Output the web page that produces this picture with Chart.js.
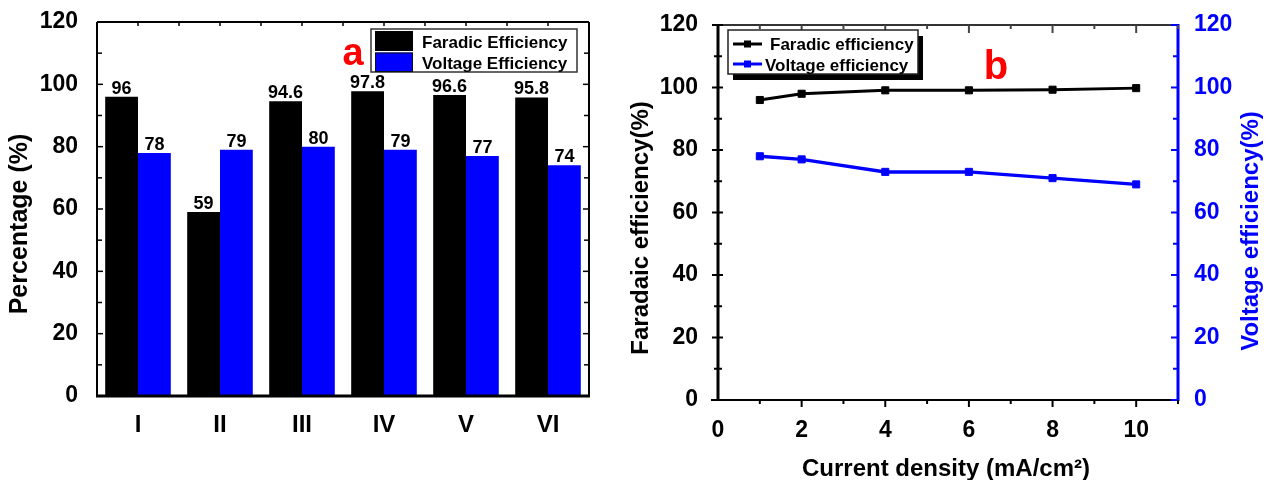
<!DOCTYPE html>
<html>
<head>
<meta charset="utf-8">
<script src="https://cdn.jsdelivr.net/npm/chart.js@4.4.1/dist/chart.umd.min.js"></script>
<style>
  html, body { margin: 0; padding: 0; background: #fff; width: 1267px; height: 480px; overflow: hidden; }
  canvas { position: absolute; top: 0; }
  #barChart { left: 0; }
  #lineChart { left: 620px; }
</style>
</head>
<body>
<canvas id="barChart" width="620" height="480"></canvas>
<canvas id="lineChart" width="647" height="480"></canvas>
<script>
const FONT = '"Liberation Sans", Arial, Helvetica, sans-serif';
const BLUE = '#0000ff';

// Panel (a): efficiencies for each cell configuration
const cellGroups = ['I', 'II', 'III', 'IV', 'V', 'VI'];
const faradicEfficiency = [96, 59, 94.6, 97.8, 96.6, 95.8];
const voltageEfficiency = [78, 79, 80, 79, 77, 74];

// Panel (b): efficiencies versus current density (mA/cm2)
const currentDensity = [1, 2, 4, 6, 8, 10];
const faradicVsCurrent = [96, 98, 99.1, 99.1, 99.3, 99.8];
const voltageVsCurrent = [78, 77, 73, 73, 71, 69];

// Tick labels
const percentTicks = [0, 20, 40, 60, 80, 100, 120];
const currentTicks = [0, 2, 4, 6, 8, 10];

function font(size) { return 'bold ' + size + 'px ' + FONT; }

function seg(ctx, x1, y1, x2, y2) {
  ctx.beginPath(); ctx.moveTo(x1, y1); ctx.lineTo(x2, y2); ctx.stroke();
}

function label(ctx, str, x, y, size, opts) {
  opts = opts || {};
  ctx.save();
  ctx.translate(x, y);
  if (opts.rot) ctx.rotate(opts.rot);
  ctx.font = font(size);
  ctx.fillStyle = opts.color || '#000';
  ctx.textAlign = opts.align || 'center';
  ctx.textBaseline = opts.baseline || 'middle';
  ctx.fillText(str, 0, 0);
  ctx.restore();
}

// keep the plot area where the layout padding puts it
function fixSize(prop, size) {
  return s => {
    s[prop] = size;
    s.paddingTop = 0; s.paddingBottom = 0; s.paddingLeft = 0; s.paddingRight = 0;
  };
}

// axis marks are drawn by the plugins below
const noGrid = { display: false, drawTicks: false };

// Frame, tick marks, value labels, legend and titles for panel (a)
const barDecor = {
  id: 'barDecor',
  afterDatasetsDraw(chart) {
    const ctx = chart.ctx;
    chart.data.datasets.forEach((ds, di) => {
      chart.getDatasetMeta(di).data.forEach((bar, i) => {
        label(ctx, String(ds.data[i]), bar.x, bar.y - 3, 18, { baseline: 'alphabetic' });
      });
    });
  },
  afterDraw(chart) {
    const { ctx, chartArea: a, scales: { x, y } } = chart;
    ctx.save();
    ctx.strokeStyle = '#000';
    ctx.lineWidth = 2;
    seg(ctx, a.left, a.top, a.right, a.top);
    seg(ctx, a.left, a.top, a.left, a.bottom);
    seg(ctx, a.right, a.top, a.right, a.bottom);
    ctx.lineWidth = 3;
    seg(ctx, a.left - 1, a.bottom, a.right + 1, a.bottom);

    ctx.lineWidth = 1.5;
    for (let v = 10; v < 120; v += 10) {
      const py = y.getPixelForValue(v);
      const len = v % 20 === 0 ? 6 : 5;
      seg(ctx, a.left, py, a.left + len, py);
      seg(ctx, a.right, py, a.right - len, py);
    }
    for (let i = 0; i < cellGroups.length; i++) {
      const px = x.getPixelForValue(i);
      seg(ctx, px, a.top, px, a.top + 4);
      if (i < cellGroups.length - 1) {
        const pb = (px + x.getPixelForValue(i + 1)) / 2;
        seg(ctx, pb, a.top, pb, a.top + 4);
      }
    }

    // legend
    const ds = chart.data.datasets;
    ctx.fillStyle = '#fff';
    ctx.fillRect(371, 29, 206, 43);
    ctx.strokeStyle = '#333';
    ctx.lineWidth = 1.5;
    ctx.strokeRect(371, 29, 206, 43);
    ctx.fillStyle = ds[0].backgroundColor;
    ctx.fillRect(375, 31, 38, 20);
    ctx.fillStyle = ds[1].backgroundColor;
    ctx.fillRect(375, 52.5, 38, 19);
    ctx.strokeStyle = '#111';
    ctx.lineWidth = 1;
    ctx.strokeRect(375.5, 53, 37, 18.5);
    label(ctx, ds[0].label, 422, 47.5, 17, { align: 'left', baseline: 'alphabetic' });
    label(ctx, ds[1].label, 422, 68.5, 17, { align: 'left', baseline: 'alphabetic' });

    // panel letter and axis title
    label(ctx, 'a', 353, 65, 38, { color: '#ff0000', baseline: 'alphabetic' });
    label(ctx, 'Percentage (%)', 20, 224, 25, { rot: -Math.PI / 2 });
    ctx.restore();
  }
};

new Chart(document.getElementById('barChart'), {
  type: 'bar',
  data: {
    labels: cellGroups,
    datasets: [
      { label: 'Faradic Efficiency', data: faradicEfficiency, backgroundColor: '#000000',
        categoryPercentage: 0.8, barPercentage: 1 },
      { label: 'Voltage Efficiency', data: voltageEfficiency, backgroundColor: BLUE,
        categoryPercentage: 0.8, barPercentage: 1 }
    ]
  },
  options: {
    responsive: false,
    animation: false,
    devicePixelRatio: 1,
    layout: { padding: { top: 22, right: 31, bottom: 0, left: 0 } },
    plugins: { legend: { display: false }, tooltip: { enabled: false } },
    scales: {
      x: {
        grid: noGrid,
        border: { display: false },
        ticks: { font: { family: FONT, size: 24, weight: 'bold' }, color: '#000', padding: 15 },
        afterFit: fixSize('height', 84)
      },
      y: {
        min: 0, max: 120,
        grid: noGrid,
        border: { display: false },
        ticks: { font: { family: FONT, size: 23, weight: 'bold' }, color: '#000', padding: 19 },
        afterBuildTicks: s => { s.ticks = percentTicks.map(v => ({ value: v })); },
        afterFit: fixSize('width', 97)
      }
    }
  },
  plugins: [barDecor]
});

// Frame, tick marks, legend and titles for panel (b) (canvas-local coordinates)
const lineDecor = {
  id: 'lineDecor',
  afterDraw(chart) {
    const { ctx, chartArea: a, scales: { x, yL, yR } } = chart;
    ctx.save();
    ctx.lineCap = 'butt';

    // axis lines
    ctx.strokeStyle = '#333';
    ctx.lineWidth = 2;
    seg(ctx, a.left, a.top, a.right, a.top);
    ctx.strokeStyle = '#000';
    seg(ctx, a.left - 7, a.bottom, a.right, a.bottom);
    ctx.lineWidth = 3;
    seg(ctx, a.left, a.top - 1, a.left, a.bottom + 1);
    ctx.strokeStyle = BLUE;
    seg(ctx, a.right, a.top - 1, a.right, a.bottom + 1);

    // value-axis ticks
    ctx.lineWidth = 2;
    for (let v = 0; v <= 120; v += 10) {
      const major = v % 20 === 0;
      const pl = yL.getPixelForValue(v);
      ctx.strokeStyle = '#000';
      seg(ctx, a.left - (major ? 6 : 4), pl, a.left + (major ? 5 : 4), pl);
      const pr = yR.getPixelForValue(v);
      ctx.strokeStyle = BLUE;
      seg(ctx, a.right - (major ? 7 : 5), pr, a.right, pr);
    }
    // current-density ticks, bottom (outwards) and top (inwards)
    for (let v = 1; v <= 11; v++) {
      const major = v % 2 === 0;
      const px = x.getPixelForValue(v);
      ctx.strokeStyle = '#000';
      seg(ctx, px, a.bottom, px, a.bottom + (major ? 7 : 4));
      ctx.strokeStyle = '#444';
      seg(ctx, px, a.top, px, a.top + (major ? 8 : 4));
    }

    // legend with drop shadow
    const ds = chart.data.datasets;
    ctx.fillStyle = '#000';
    ctx.fillRect(113, 36, 190, 44);
    ctx.fillStyle = '#fff';
    ctx.fillRect(108, 30, 190, 44);
    ctx.strokeStyle = '#222';
    ctx.lineWidth = 1.5;
    ctx.strokeRect(108, 30, 190, 44);
    const rows = [{ y: 44, tx: 150, ty: 50 }, { y: 64, tx: 145, ty: 71 }];
    rows.forEach((r, i) => {
      ctx.strokeStyle = ds[i].borderColor;
      ctx.lineWidth = 3;
      seg(ctx, 113, r.y, 142, r.y);
      ctx.fillStyle = ds[i].borderColor;
      ctx.fillRect(124, r.y - 3.5, 7, 7);
      label(ctx, ds[i].label, r.tx, r.ty, 17, { align: 'left', baseline: 'alphabetic' });
    });

    // panel letter and axis titles
    label(ctx, 'b', 376, 79, 40, { color: '#ff0000', baseline: 'alphabetic' });
    label(ctx, 'Faradaic efficiency(%)', 21, 228, 24, { rot: -Math.PI / 2 });
    label(ctx, 'Voltage efficiency(%)', 631, 231, 24, { rot: -Math.PI / 2, color: BLUE });
    label(ctx, 'Current density (mA/cm\u00B2)', 326, 469, 24);
    ctx.restore();
  }
};

new Chart(document.getElementById('lineChart'), {
  type: 'line',
  data: {
    datasets: [
      { label: 'Faradic efficiency', yAxisID: 'yL',
        data: currentDensity.map((c, i) => ({ x: c, y: faradicVsCurrent[i] })),
        borderColor: '#000000', backgroundColor: '#000000', borderWidth: 3,
        pointStyle: 'rect', pointRadius: 5, pointBorderWidth: 1, tension: 0 },
      { label: 'Voltage efficiency', yAxisID: 'yR',
        data: currentDensity.map((c, i) => ({ x: c, y: voltageVsCurrent[i] })),
        borderColor: BLUE, backgroundColor: BLUE, borderWidth: 3.5,
        pointStyle: 'rect', pointRadius: 5, pointBorderWidth: 1, tension: 0 }
    ]
  },
  options: {
    responsive: false,
    animation: false,
    devicePixelRatio: 1,
    layout: { padding: { top: 25, right: 0, bottom: 0, left: 0 } },
    plugins: { legend: { display: false }, tooltip: { enabled: false } },
    scales: {
      x: {
        type: 'linear', min: 0, max: 11,
        grid: noGrid,
        border: { display: false },
        ticks: { font: { family: FONT, size: 23, weight: 'bold' }, color: '#000', padding: 17 },
        afterBuildTicks: s => { s.ticks = currentTicks.map(v => ({ value: v })); },
        afterFit: fixSize('height', 80)
      },
      yL: {
        position: 'left', min: 0, max: 120,
        grid: noGrid,
        border: { display: false },
        ticks: { font: { family: FONT, size: 23, weight: 'bold' }, color: '#000', padding: 20 },
        afterBuildTicks: s => { s.ticks = percentTicks.map(v => ({ value: v })); },
        afterFit: fixSize('width', 98)
      },
      yR: {
        position: 'right', min: 0, max: 120,
        grid: noGrid,
        border: { display: false },
        ticks: { font: { family: FONT, size: 23, weight: 'bold' }, color: BLUE, padding: 16 },
        afterBuildTicks: s => { s.ticks = percentTicks.map(v => ({ value: v })); },
        afterFit: fixSize('width', 89)
      }
    }
  },
  plugins: [lineDecor]
});
</script>
</body>
</html>
